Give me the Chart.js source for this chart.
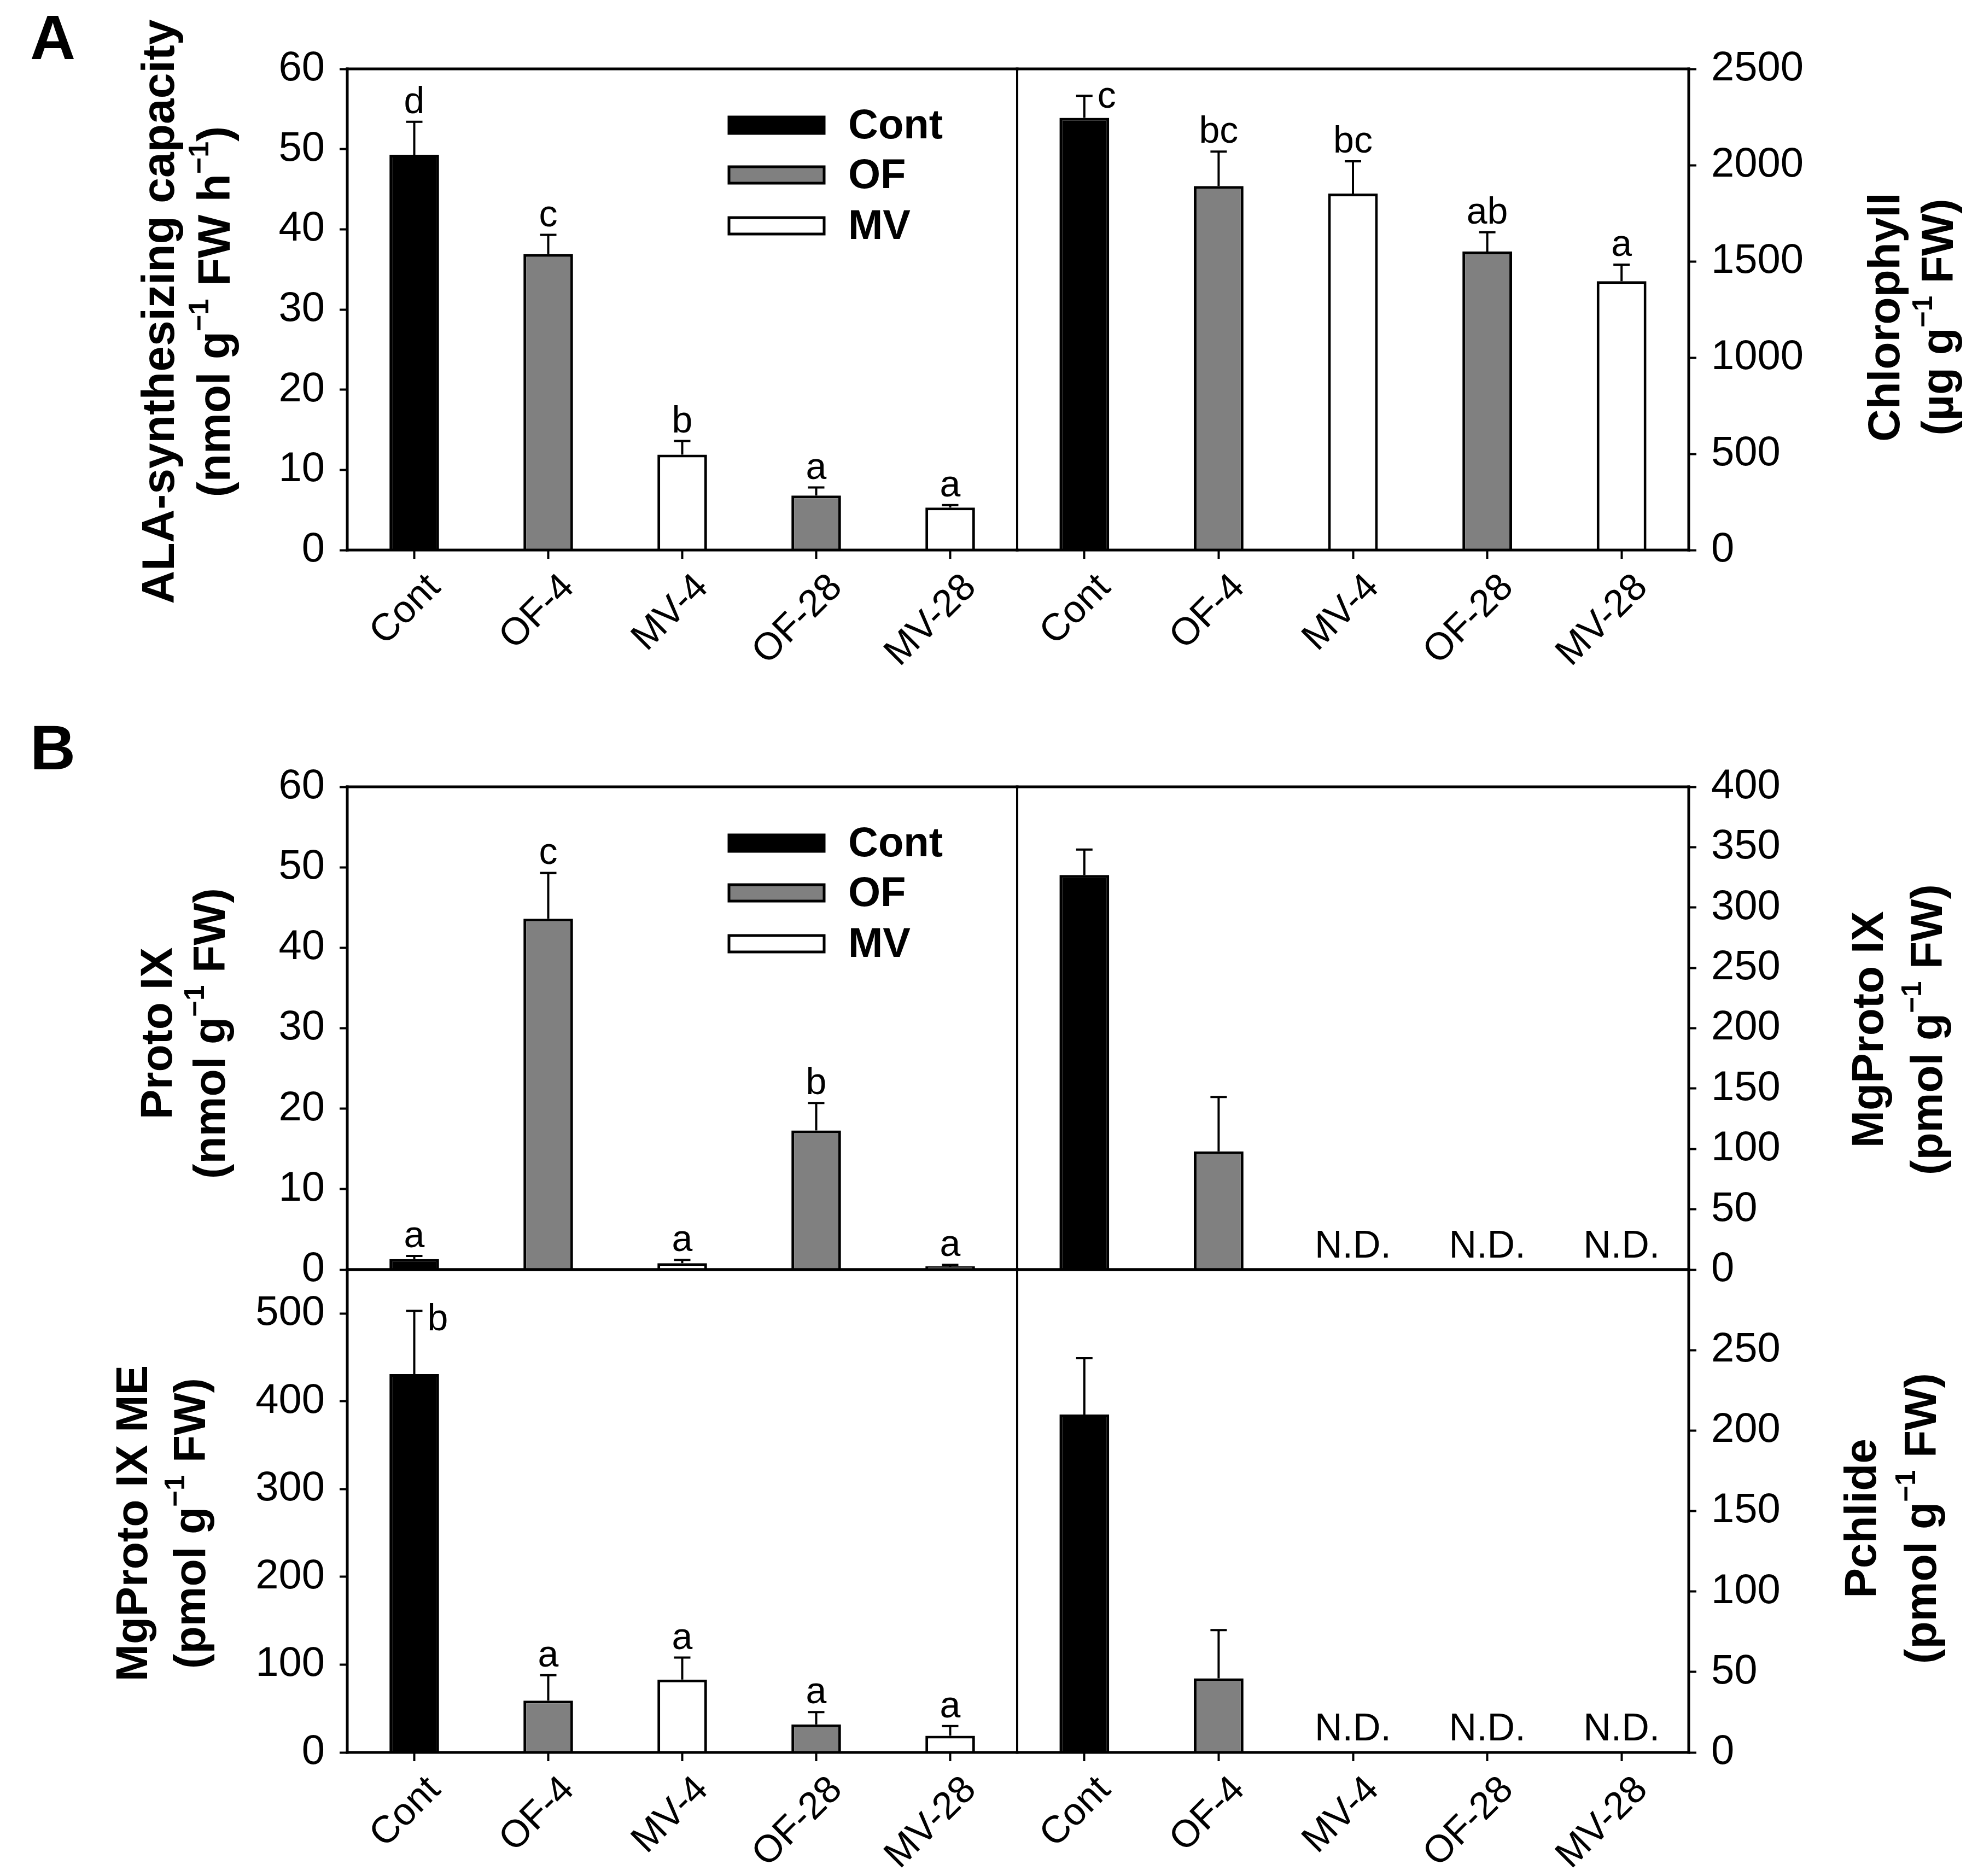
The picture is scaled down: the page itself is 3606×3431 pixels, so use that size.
<!DOCTYPE html>
<html>
<head>
<meta charset="utf-8">
<script src="https://cdn.jsdelivr.net/npm/chart.js@4.4.1/dist/chart.umd.min.js"></script>
<style>
  html, body { margin: 0; padding: 0; background: #fff; }
  #fig { position: relative; width: 3606px; height: 3431px; background: #fff; overflow: hidden; }
  #fig canvas { position: absolute; }
</style>
</head>
<body>
<div id="fig"></div>
<script>
// categories and treatment groups
const categories = ['Cont', 'OF-4', 'MV-4', 'OF-28', 'MV-28'];
const treatments = ['Cont', 'OF', 'MV'];
const groupOf = ['Cont', 'OF', 'MV', 'OF', 'MV'];

// A left: ALA-synthesizing capacity
const alaMean = [49.3, 36.9, 11.9, 6.8, 5.3];
const alaErr = [4.1, 2.4, 1.7, 1.0, 0.3];
const alaLetters = ['d', 'c', 'b', 'a', 'a'];

// A right: chlorophyll
const chlMean = [2246, 1891, 1852, 1551, 1397];
const chlErr = [114, 179, 168, 100, 86];
const chlLetters = ['c', 'bc', 'bc', 'ab', 'a'];

// B top left: Proto IX
const protoMean = [1.3, 43.6, 0.8, 17.3, 0.4];
const protoErr = [0.4, 5.7, 0.4, 3.4, 0.2];
const protoLetters = ['a', 'c', 'a', 'b', 'a'];

// B top right: MgProto IX (null = N.D.)
const mgpMean = [327, 98, null, null, null];
const mgpErr = [21, 45, null, null, null];

// B bottom left: MgProto IX ME
const mgpmeMean = [431, 59, 83, 32, 19];
const mgpmeErr = [72, 29, 25, 14, 11];
const mgpmeLetters = ['b', 'a', 'a', 'a', 'a'];

// B bottom right: Pchlide (null = N.D.)
const pchlMean = [210, 46, null, null, null];
const pchlErr = [35, 30, null, null, null];

const FONT = "'Liberation Sans', Arial, Helvetica, sans-serif";
const barColors = { Cont: '#000000', OF: '#808080', MV: '#ffffff' };

Chart.defaults.font.family = FONT;
Chart.defaults.color = '#000';

function makeDatasets(mean) {
    return treatments.map(function(t) {
        return {
            label: t,
            data: mean.map(function(v, i) { return groupOf[i] === t ? v : null; }),
            backgroundColor: barColors[t],
            borderColor: '#000',
            borderWidth: 5,
            grouped: false,
            categoryPercentage: 1,
            barPercentage: 0.37
        };
    });
}

// text with ^{...} superscripts, centred on 0,0
function drawRich(ctx, str, size, bold) {
    const parts = str.split(/\^\{([^}]*)\}/);
    const base = (bold ? 'bold ' : '') + size + 'px ' + FONT;
    const sup = (bold ? 'bold ' : '') + Math.round(size * 0.62) + 'px ' + FONT;
    let w = 0;
    parts.forEach(function(p, k) { ctx.font = k % 2 ? sup : base; w += ctx.measureText(p).width; });
    let x = -w / 2;
    ctx.textAlign = 'left';
    ctx.textBaseline = 'middle';
    parts.forEach(function(p, k) {
        ctx.font = k % 2 ? sup : base;
        ctx.fillText(p, x, k % 2 ? -size * 0.36 : 0);
        x += ctx.measureText(p).width;
    });
}

const extras = {
    id: 'panelExtras',
    afterDatasetsDraw: function(chart, args, cfg) {
        const ctx = chart.ctx;
        const y = chart.scales.y;
        const area = chart.chartArea;
        ctx.save();
        ctx.strokeStyle = '#000';
        ctx.fillStyle = '#000';
        ctx.lineWidth = 4;
        cfg.mean.forEach(function(v, i) {
            const x = chart.scales.x.getPixelForValue(i);
            if (v === null) {
                ctx.font = '70px ' + FONT;
                ctx.textAlign = 'center';
                ctx.textBaseline = 'alphabetic';
                ctx.fillText('N.D.', x, area.bottom - 22);
                return;
            }
            const bar = chart.getDatasetMeta(treatments.indexOf(groupOf[i])).data[i];
            const capY = y.getPixelForValue(v + cfg.err[i]);
            ctx.beginPath();
            ctx.moveTo(bar.x, bar.y);
            ctx.lineTo(bar.x, capY);
            ctx.moveTo(bar.x - 15, capY);
            ctx.lineTo(bar.x + 15, capY);
            ctx.stroke();
            if (cfg.letters) {
                const L = cfg.letters[i];
                ctx.font = '68px ' + FONT;
                ctx.textBaseline = 'alphabetic';
                if (capY - area.top > 85) {
                    ctx.textAlign = 'center';
                    ctx.fillText(L, bar.x, capY - 16);
                } else {
                    ctx.textAlign = 'left';
                    ctx.fillText(L, bar.x + 24, capY + (/[bdfhklt]/.test(L) ? 36 : 22));
                }
            }
        });
        ctx.restore();
    },
    afterDraw: function(chart, args, cfg) {
        const ctx = chart.ctx;
        const a = chart.chartArea;
        const ox = cfg.box.x, oy = cfg.box.y;
        const left = cfg.side === 'left';
        ctx.save();
        ctx.strokeStyle = '#000';
        ctx.fillStyle = '#000';
        ctx.lineCap = 'square';
        function line(x1, y1, x2, y2, w) {
            ctx.lineWidth = w;
            ctx.beginPath(); ctx.moveTo(x1, y1); ctx.lineTo(x2, y2); ctx.stroke();
        }
        line(a.left, a.top, a.right, a.top, 5);
        line(a.left, a.bottom, a.right, a.bottom, 5);
        line(a.left, a.top, a.left, a.bottom, left ? 5 : 4);
        line(a.right, a.top, a.right, a.bottom, left ? 4 : 5);

        // legend
        if (cfg.legend) {
            const offs = [103, 194, 287];
            treatments.forEach(function(t, k) {
                const cy = a.top + offs[k];
                ctx.fillStyle = barColors[t];
                ctx.fillRect(a.left + 698, cy - 15, 174, 30);
                ctx.lineWidth = 5;
                ctx.strokeStyle = '#000';
                ctx.lineCap = 'butt';
                ctx.strokeRect(a.left + 698, cy - 15, 174, 30);
                ctx.fillStyle = '#000';
                ctx.font = 'bold 76px ' + FONT;
                ctx.textAlign = 'left';
                ctx.textBaseline = 'middle';
                ctx.fillText(t, a.left + 916, cy + 3);
            });
        }

        // axis title
        cfg.title.lines.forEach(function(s, k) {
            ctx.save();
            ctx.translate(cfg.title.x[k] - ox, cfg.title.y - oy);
            ctx.rotate(-Math.PI / 2);
            ctx.fillStyle = '#000';
            drawRich(ctx, s, cfg.title.size || 82, true);
            ctx.restore();
        });

        // panel tag
        if (cfg.tag) {
            ctx.font = 'bold 115px ' + FONT;
            ctx.textAlign = 'left';
            ctx.textBaseline = 'alphabetic';
            ctx.fillText(cfg.tag.text, cfg.tag.x - ox, cfg.tag.y - oy);
        }
        ctx.restore();
    }
};

const panels = [
    { mean: alaMean, err: alaErr, letters: alaLetters, max: 60, step: 10, labelMax: 60,
      side: 'left', xLabels: true, box: {x: 0, y: 0, w: 1900, h: 1300}, area: {l: 635, t: 126, r: 1860, b: 1006},
      title: {lines: ['ALA-synthesizing capacity', '(nmol g^{−1} FW h^{−1})'], x: [295, 397], y: 570, size: 84},
      legend: true, tag: {text: 'A', x: 55, y: 108} },
    { mean: chlMean, err: chlErr, letters: chlLetters, max: 2500, step: 500, labelMax: 2500,
      side: 'right', xLabels: true, box: {x: 1820, y: 0, w: 1786, h: 1300}, area: {l: 1860, t: 126, r: 3088, b: 1006},
      title: {lines: ['Chlorophyll', '(µg g^{−1} FW)'], x: [3450, 3548], y: 580} },
    { mean: protoMean, err: protoErr, letters: protoLetters, max: 60, step: 10, labelMax: 60,
      side: 'left', xLabels: false, box: {x: 0, y: 1300, w: 1900, h: 1122}, area: {l: 635, t: 1439, r: 1860, b: 2322},
      title: {lines: ['Proto IX', '(nmol g^{−1} FW)'], x: [291, 388], y: 1890},
      legend: true, tag: {text: 'B', x: 55, y: 1407} },
    { mean: mgpMean, err: mgpErr, max: 400, step: 50, labelMax: 400,
      side: 'right', xLabels: false, box: {x: 1820, y: 1300, w: 1786, h: 1122}, area: {l: 1860, t: 1439, r: 3088, b: 2322},
      title: {lines: ['MgProto IX', '(pmol g^{−1} FW)'], x: [3420, 3528], y: 1883} },
    { mean: mgpmeMean, err: mgpmeErr, letters: mgpmeLetters, max: 550, step: 100, labelMax: 500,
      side: 'left', xLabels: true, box: {x: 0, y: 2200, w: 1900, h: 1231}, area: {l: 635, t: 2322, r: 1860, b: 3205},
      title: {lines: ['MgProto IX ME', '(pmol g^{−1} FW)'], x: [246, 352], y: 2786} },
    { mean: pchlMean, err: pchlErr, max: 300, step: 50, labelMax: 250,
      side: 'right', xLabels: true, box: {x: 1820, y: 2200, w: 1786, h: 1231}, area: {l: 1860, t: 2322, r: 3088, b: 3205},
      title: {lines: ['Pchlide', '(pmol g^{−1} FW)'], x: [3407, 3517], y: 2777} }
];

const fig = document.getElementById('fig');

panels.forEach(function(cfg) {
    const c = document.createElement('canvas');
    c.width = cfg.box.w;
    c.height = cfg.box.h;
    c.style.left = cfg.box.x + 'px';
    c.style.top = cfg.box.y + 'px';
    c.style.width = cfg.box.w + 'px';
    c.style.height = cfg.box.h + 'px';
    fig.appendChild(c);

    const left = cfg.side === 'left';
    const a = cfg.area;
    const axisW = left ? a.l - cfg.box.x : cfg.box.x + cfg.box.w - a.r;
    const bottomH = cfg.box.y + cfg.box.h - a.b;

    new Chart(c, {
        type: 'bar',
        data: { labels: categories, datasets: makeDatasets(cfg.mean) },
        options: {
            responsive: false,
            animation: false,
            devicePixelRatio: 1,
            layout: {
                autoPadding: false,
                padding: {
                    left: left ? 0 : a.l - cfg.box.x,
                    right: left ? cfg.box.x + cfg.box.w - a.r : 0,
                    top: a.t - cfg.box.y,
                    bottom: cfg.xLabels ? 0 : bottomH
                }
            },
            plugins: {
                legend: { display: false },
                tooltip: { enabled: false },
                panelExtras: cfg
            },
            scales: {
                x: {
                    display: cfg.xLabels,
                    offset: true,
                    border: { display: false },
                    grid: { offset: false, drawOnChartArea: false, tickLength: 16, tickWidth: 4, color: '#000' },
                    ticks: { autoSkip: false, minRotation: 45, maxRotation: 45, padding: 12, labelOffset: 37, font: { size: 70 } },
                    afterFit: function(s) { if (cfg.xLabels) s.height = bottomH; }
                },
                y: {
                    position: cfg.side,
                    min: 0,
                    max: cfg.max,
                    border: { display: false },
                    grid: { drawOnChartArea: false, tickLength: 14, tickWidth: 4, color: '#000' },
                    ticks: {
                        stepSize: cfg.step,
                        includeBounds: false,
                        padding: 27,
                        font: { size: 76 },
                        callback: function(v) { return String(v); }
                    },
                    afterBuildTicks: function(s) { s.ticks = s.ticks.filter(function(t) { return t.value <= cfg.labelMax; }); },
                    afterFit: function(s) { s.width = axisW; }
                }
            }
        },
        plugins: [extras]
    });
});
</script>
</body>
</html>
